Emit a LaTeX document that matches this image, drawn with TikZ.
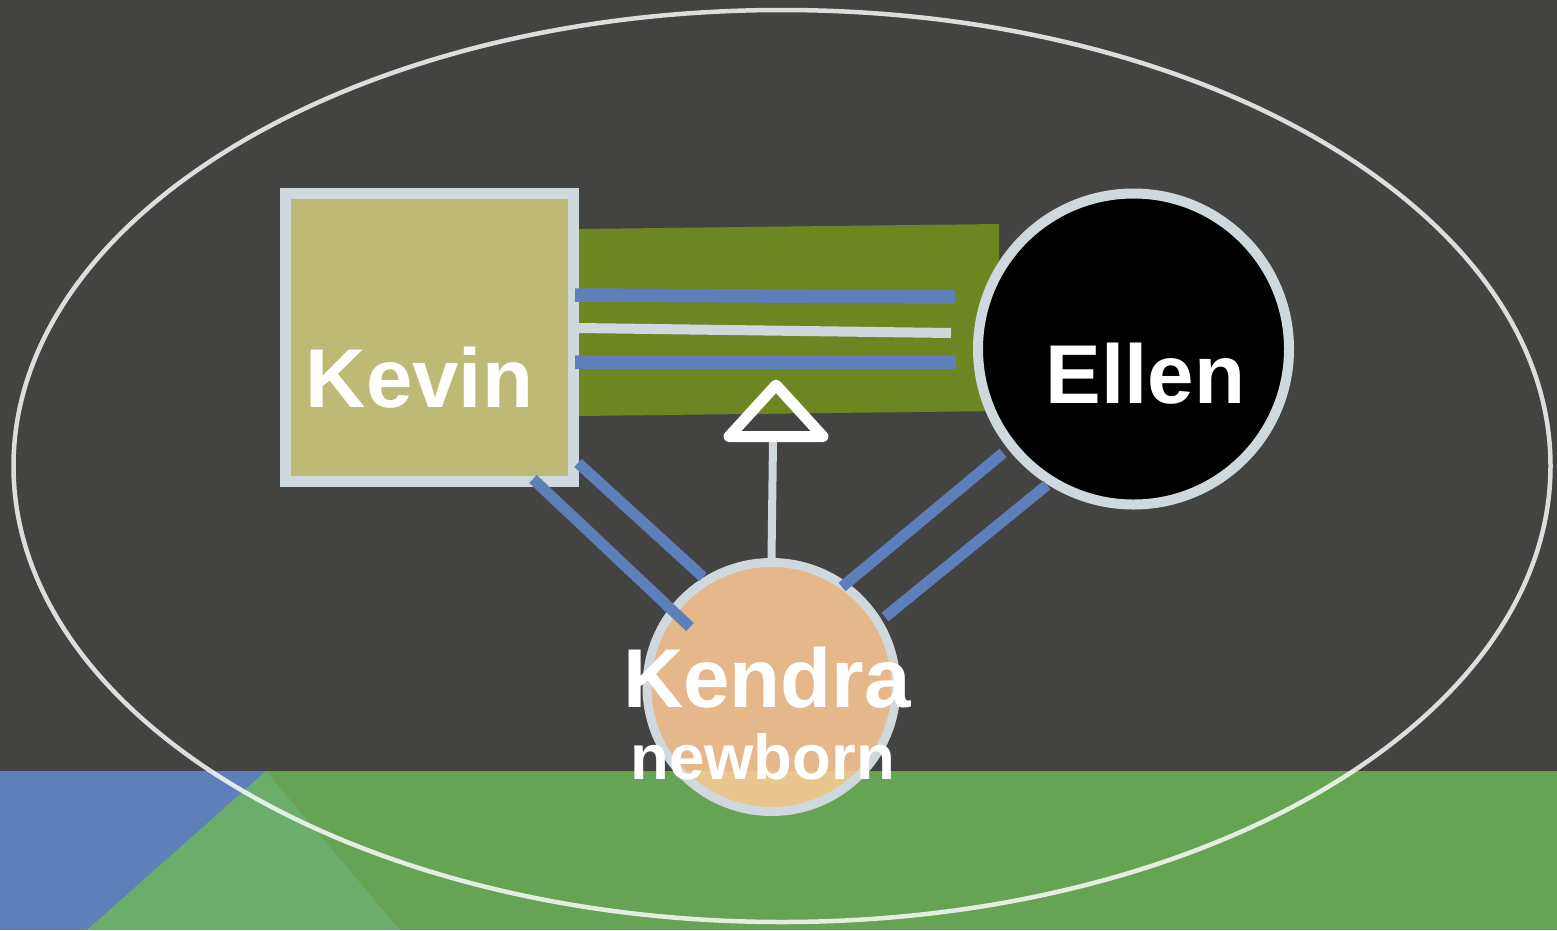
\documentclass[tikz,border=0pt]{standalone}
\usepackage{fontspec}
\setmainfont{Liberation Sans}
\usetikzlibrary{positioning}
\definecolor{bggray}{RGB}{67,67,65}
\definecolor{kinblue}{RGB}{95,127,187}
\definecolor{fieldgreen}{RGB}{103,163,84}
\definecolor{hillgreen}{RGB}{107,174,107}
\definecolor{bondgreen}{RGB}{110,134,34}
\definecolor{khaki}{RGB}{189,186,118}
\definecolor{rimgray}{RGB}{207,216,220}
\definecolor{peach}{RGB}{255,204,152}

\begin{document}
\begin{tikzpicture}[x=1pt,y=-1pt,
   person/.style={draw=rimgray,line width=10pt,inner sep=0pt},
   kin/.style={kinblue,line width=11pt},
   tie/.style={rimgray,line width=10pt},
   nametag/.style={text=white,inner sep=0pt,anchor=base,font=\fontsize{83.5}{83.5}\selectfont\bfseries}]
   % background and ground
   \useasboundingbox (0,0) rectangle (1557,930);
   \fill[bggray] (0,0) rectangle (1557,930);
   \fill[kinblue] (0,771) rectangle (1557,930);
   \fill[fieldgreen] (266,771) -- (1557,771) -- (1557,930) -- (400,930) -- cycle;
   \fill[hillgreen] (266,771) -- (400,930) -- (87,930) -- cycle;
   \draw[white,draw opacity=0.82,line width=4.5pt] (782,466) ellipse [x radius=768.5,y radius=456];
   % bond
   \fill[bondgreen] (579,229) -- (999,224) -- (999,411) -- (579,416) -- cycle;
   % people
   \node[person,fill=khaki,rectangle,minimum size=288pt,line width=10.5pt] (kevin) at (429.5,337.5) {};
   \node[person,fill=black,circle,minimum size=311pt] (ellen) at (1133.5,349) {};
   \node[person,fill=peach,fill opacity=0.86,circle,minimum size=249pt,line width=9pt] (kendra) at (771.5,687) {};
   \node[nametag] (kevinname) at (419.5,407) {Kevin};
   \node[nametag] (ellenname) at (1145.5,403) {Ellen};
   \node[nametag] (kendraname) at (767,707) {Kendra};
   \node[nametag,font=\fontsize{63.5}{63.5}\selectfont\bfseries] (kendraage) at (762.5,779) {newborn};
   % links
   \coordinate (kv1) at (575,295); \coordinate (el1) at (955,297);
   \coordinate (kv2) at (575,362); \coordinate (el2) at (956,362);
   \coordinate (kv3) at (kevin.east |- 0,328); \coordinate (el3) at (951,333);
   \coordinate (kv4) at (533,479); \coordinate (kd4) at (690,627);
   \coordinate (kv5) at (578,463); \coordinate (kd5) at (703,577);
   \coordinate (kd6) at (842,587); \coordinate (el6) at (1003,453);
   \coordinate (kd7) at (885,617); \coordinate (el7) at (1047,485);
   \draw[kin,line width=13.5pt] (kv1) -- (el1) (kv2) -- (el2);
   \draw[tie] (kv3) -- (el3);
   \draw[kin] (kv4) -- (kd4) (kv5) -- (kd5) (kd6) -- (el6) (kd7) -- (el7);
   % child of the bond
   \coordinate (apex) at (776,385);
   \coordinate (tribase) at (773,441);
   \draw[rimgray,line width=8pt] (tribase) -- (kendra.north);
   \draw[white,line width=11pt,line join=round] (apex) -- (729,436.5) -- (823,436.5) -- cycle;
\end{tikzpicture}
\end{document}
